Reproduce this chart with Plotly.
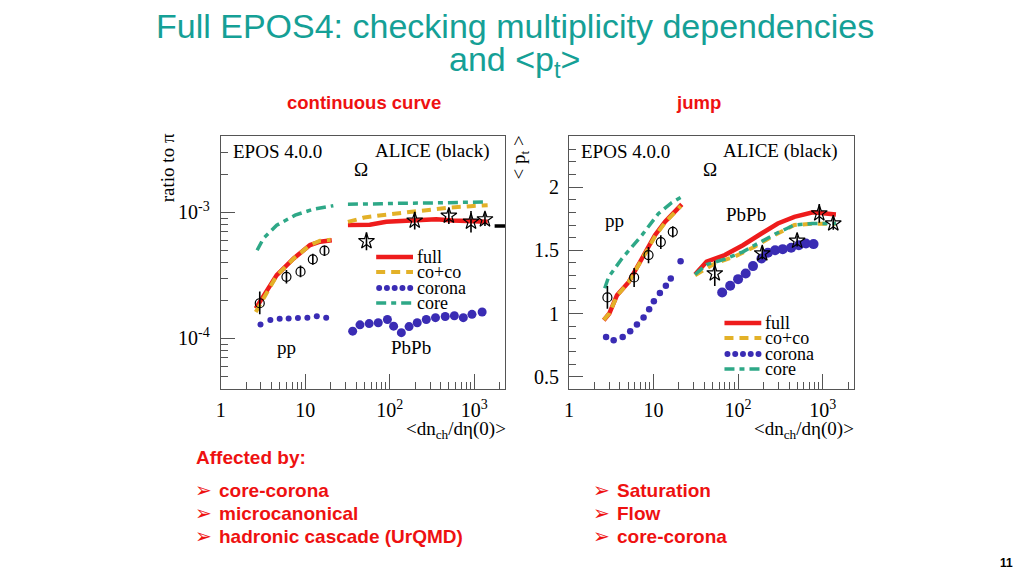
import plotly.graph_objects as go

# ================= DATA =================
# ---- left panel: Omega / pi ratio vs <dn_ch/deta(0)> ----
r_pp_full_x = [2.6, 3.2, 4.6, 7.3, 11.4, 15, 20.6]
r_pp_full_y = [1.73e-4, 2.14e-4, 3.18e-4, 4.31e-4, 5.5e-4, 5.85e-4, 6.0e-4]
r_pp_coco_x = [2.6, 3.2, 4.6, 7.3, 11.4, 15, 20.0]
r_pp_coco_y = [1.62e-4, 2.05e-4, 3.15e-4, 4.3e-4, 5.5e-4, 5.95e-4, 6.05e-4]
r_pp_core_x = [2.7, 3.2, 4.6, 7.6, 12.5, 21.5]
r_pp_core_y = [5.0e-4, 6.2e-4, 7.9e-4, 9.5e-4, 1.06e-3, 1.13e-3]
r_pp_corona_x = [2.96, 3.87, 4.99, 6.37, 8.2, 10.6, 13.7, 17.7]
r_pp_corona_y = [1.29e-4, 1.40e-4, 1.43e-4, 1.44e-4, 1.45e-4, 1.46e-4, 1.50e-4, 1.46e-4]
r_pp_data_x = [2.9, 6.0, 8.8, 12.3, 16.9]
r_pp_data_y = [1.9e-4, 3.08e-4, 3.38e-4, 4.24e-4, 4.96e-4]
r_pp_data_eup = [0.45e-4, 0.4e-4, 0.4e-4, 0.45e-4, 0.5e-4]
r_pp_data_edn = [0.35e-4, 0.35e-4, 0.33e-4, 0.4e-4, 0.45e-4]

r_pb_full_x = [32, 58, 91, 150, 226, 354, 556, 870, 1435]
r_pb_full_y = [7.94e-4, 7.97e-4, 8.43e-4, 8.55e-4, 8.69e-4, 8.8e-4, 8.6e-4, 8.6e-4, 8.43e-4]
r_pb_coco_x = [32, 50, 80, 150, 280, 500, 900, 1435]
r_pb_coco_y = [8.4e-4, 9.1e-4, 9.5e-4, 1.0e-3, 1.04e-3, 1.09e-3, 1.12e-3, 1.14e-3]
r_pb_core_x = [32, 45, 80, 130, 220, 400, 650, 1000, 1435]
r_pb_core_y = [1.16e-3, 1.17e-3, 1.17e-3, 1.18e-3, 1.18e-3, 1.19e-3, 1.2e-3, 1.21e-3, 1.21e-3]
r_pb_corona_x = [36.4, 44.4, 57, 73, 93.7, 111, 137, 169, 211, 270, 347, 452, 580, 740, 937, 1235]
r_pb_corona_y = [1.14e-4, 1.28e-4, 1.31e-4, 1.33e-4, 1.41e-4, 1.25e-4, 1.11e-4, 1.24e-4,
                 1.33e-4, 1.41e-4, 1.46e-4, 1.49e-4, 1.51e-4, 1.46e-4, 1.55e-4, 1.62e-4]
r_pb_data_x = [53, 197, 499, 912, 1334]
r_pb_data_y = [5.9e-4, 8.6e-4, 9.4e-4, 8.43e-4, 8.8e-4]
r_pb_data_eup = [1.06e-4, 1.5e-4, 1.5e-4, 1.8e-4, 1.1e-4]
r_pb_data_edn = [0.9e-4, 1.3e-4, 1.3e-4, 1.5e-4, 1.0e-4]
r_alice_hm_x = [2100]
r_alice_hm_y = [7.8e-4]

# ---- right panel: <p_t> vs <dn_ch/deta(0)> ----
p_pp_full_x = [2.58, 3.0, 3.7, 5.1, 7.3, 10.4, 13.7, 21.6]
p_pp_full_y = [0.947, 1.0, 1.145, 1.25, 1.435, 1.62, 1.726, 1.863]
p_pp_coco_x = [2.58, 3.0, 3.7, 5.1, 7.3, 10.4, 13.7, 21.0]
p_pp_coco_y = [0.95, 1.0, 1.14, 1.25, 1.43, 1.61, 1.72, 1.85]
p_pp_core_x = [2.65, 2.95, 4.24, 7.3, 11.4, 16.4, 21.6]
p_pp_core_y = [1.20, 1.29, 1.435, 1.62, 1.79, 1.876, 1.923]
p_pp_corona_x = [2.75, 3.38, 4.32, 5.3, 6.37, 7.63, 8.88, 10.1, 11.9, 14.0, 16.0, 20.9]
p_pp_corona_y = [0.815, 0.789, 0.815, 0.86, 0.913, 0.968, 1.034, 1.097, 1.163, 1.219, 1.277, 1.414]
p_pp_data_x = [2.85, 5.9, 8.73, 12.2, 16.9]
p_pp_data_y = [1.127, 1.285, 1.462, 1.565, 1.646]
p_pp_data_err = [0.09, 0.075, 0.065, 0.055, 0.045]

p_pb_full_x = [31, 42.4, 69.6, 114, 189, 295, 463, 765, 1435]
p_pb_full_y = [1.309, 1.41, 1.462, 1.54, 1.633, 1.712, 1.765, 1.80, 1.784]
p_pb_coco_x = [31, 53, 91, 157, 270, 463, 765, 1435]
p_pb_coco_y = [1.303, 1.396, 1.45, 1.528, 1.62, 1.70, 1.71, 1.71]
p_pb_core_x = [31, 42.4, 69.6, 114, 180, 282, 463, 765, 1435]
p_pb_core_y = [1.309, 1.388, 1.43, 1.488, 1.562, 1.633, 1.70, 1.712, 1.712]
p_pb_corona_x = [64.8, 80.6, 100, 123, 150, 189, 225, 274, 337, 424, 523, 634, 780]
p_pb_corona_y = [1.166, 1.219, 1.272, 1.317, 1.375, 1.435, 1.48, 1.50, 1.509, 1.52, 1.54, 1.554, 1.549]
p_pb_data_x = [53, 193, 499, 912, 1334]
p_pb_data_y = [1.317, 1.475, 1.575, 1.792, 1.712]
p_pb_data_err = [0.1, 0.045, 0.045, 0.075, 0.05]

# axis ticks
x_tickvals = [1, 10, 100, 1000]
x_ticktext = ["1", "10", "10<sup>2</sup>", "10<sup>3</sup>"]
x_minor = [2, 3, 4, 5, 6, 7, 8, 9, 20, 30, 40, 50, 60, 70, 80, 90,
           200, 300, 400, 500, 600, 700, 800, 900, 2000]
r_tickvals = [1e-4, 1e-3]
r_ticktext = ["10<sup>-4</sup>", "10<sup>-3</sup>"]
r_minor = [4e-5, 5e-5, 6e-5, 7e-5, 8e-5, 9e-5, 2e-4, 3e-4, 4e-4, 5e-4, 6e-4, 7e-4, 8e-4, 9e-4,
           2e-3, 3e-3, 4e-3]
p_tickvals = [0.5, 1.0, 1.5, 2.0]
p_ticktext = ["0.5", "1", "1.5", "2"]
p_minor = [0.6, 0.7, 0.8, 0.9, 1.1, 1.2, 1.3, 1.4, 1.6, 1.7, 1.8, 1.9, 2.1, 2.2, 2.3]

legend_labels = ["full", "co+co", "corona", "core"]

# ================= STYLE =================
W, H = 1024, 576
def px(x): return x / W
def py(y): return 1 - y / H

RED = "#ee1c1c"
GOLD = "#e3b128"
BLUE = "#3a2cb4"
TEAL = "#2ea887"
AX = "#555555"
SERIF = "Liberation Serif, Times New Roman, serif"
SANS = "Liberation Sans, Arial, sans-serif"
TITLE_C = "#15a096"
TXT_RED = "#ee1111"

FULL_STYLE = dict(color=RED, width=4.5)
COCO_STYLE = dict(color=GOLD, width=4, dash="9px,6px")
CORE_STYLE = dict(color=TEAL, width=3.5, dash="10px,5px,5px,5px")

fig = go.Figure()

def add_line(x, y, style, xa, ya):
    fig.add_trace(go.Scatter(x=x, y=y, mode="lines", line=style, xaxis=xa, yaxis=ya,
                             showlegend=False, hoverinfo="skip"))

def add_dots(x, y, size, xa, ya):
    fig.add_trace(go.Scatter(x=x, y=y, mode="markers",
                             marker=dict(color=BLUE, size=size, line=dict(width=0)),
                             xaxis=xa, yaxis=ya, showlegend=False, hoverinfo="skip"))

def add_data(x, y, eup, edn, symbol, size, xa, ya):
    fig.add_trace(go.Scatter(x=x, y=y, mode="markers",
                             marker=dict(symbol=symbol, size=size, color="black",
                                         line=dict(color="black", width=1.2)),
                             error_y=dict(type="data", symmetric=False, array=eup, arrayminus=edn,
                                          color="black", thickness=1.6, width=0),
                             xaxis=xa, yaxis=ya, showlegend=False, hoverinfo="skip"))

# left panel
add_line(r_pp_full_x, r_pp_full_y, FULL_STYLE, "x", "y")
add_line(r_pb_full_x, r_pb_full_y, FULL_STYLE, "x", "y")
add_line(r_pp_coco_x, r_pp_coco_y, COCO_STYLE, "x", "y")
add_line(r_pb_coco_x, r_pb_coco_y, COCO_STYLE, "x", "y")
add_line(r_pp_core_x, r_pp_core_y, CORE_STYLE, "x", "y")
add_line(r_pb_core_x, r_pb_core_y, CORE_STYLE, "x", "y")
add_dots(r_pp_corona_x, r_pp_corona_y, 6, "x", "y")
add_dots(r_pb_corona_x, r_pb_corona_y, 9, "x", "y")
add_data(r_pp_data_x, r_pp_data_y, r_pp_data_eup, r_pp_data_edn, "circle-open", 9, "x", "y")
add_data(r_pb_data_x, r_pb_data_y, r_pb_data_eup, r_pb_data_edn, "star-open", 12, "x", "y")
fig.add_trace(go.Scatter(x=r_alice_hm_x, y=r_alice_hm_y, mode="markers",
                         marker=dict(symbol="line-ew", size=10, line=dict(color="black", width=3.5)),
                         xaxis="x", yaxis="y", showlegend=False, hoverinfo="skip"))

# right panel
add_line(p_pp_full_x, p_pp_full_y, FULL_STYLE, "x2", "y2")
add_line(p_pb_full_x, p_pb_full_y, FULL_STYLE, "x2", "y2")
add_line(p_pp_coco_x, p_pp_coco_y, COCO_STYLE, "x2", "y2")
add_line(p_pb_coco_x, p_pb_coco_y, COCO_STYLE, "x2", "y2")
add_line(p_pp_core_x, p_pp_core_y, CORE_STYLE, "x2", "y2")
add_line(p_pb_core_x, p_pb_core_y, CORE_STYLE, "x2", "y2")
add_dots(p_pp_corona_x, p_pp_corona_y, 6.5, "x2", "y2")
add_dots(p_pb_corona_x, p_pb_corona_y, 10, "x2", "y2")
add_data(p_pp_data_x, p_pp_data_y, p_pp_data_err, p_pp_data_err, "circle-open", 9, "x2", "y2")
add_data(p_pb_data_x, p_pb_data_y, p_pb_data_err, p_pb_data_err, "star-open", 12, "x2", "y2")

# ================= AXES =================
TOP, BOT = 136, 389
def xaxis_cfg(left, right, anchor):
    return dict(domain=[px(left), px(right)], anchor=anchor, type="log", range=[0, 3.365],
                showline=True, mirror=True, linecolor=AX, linewidth=1,
                ticks="inside", ticklen=15, tickcolor=AX, tickwidth=1,
                tickmode="array", tickvals=x_tickvals, ticktext=x_ticktext,
                tickfont=dict(family=SERIF, size=20, color="black"), ticklabelstandoff=3,
                showgrid=False, zeroline=False,
                minor=dict(ticks="inside", ticklen=7, tickcolor=AX, tickvals=x_minor, showgrid=False))

fig.update_layout(
    xaxis=xaxis_cfg(216.7, 502.7, "y"),
    xaxis2=xaxis_cfg(566.7, 852.7, "y2"),
    yaxis=dict(domain=[py(BOT), py(TOP)], anchor="x", type="log", range=[-4.402, -2.394],
               showline=True, mirror=True, linecolor=AX, linewidth=1,
               ticks="inside", ticklen=14, tickcolor=AX,
               tickmode="array", tickvals=r_tickvals, ticktext=r_ticktext,
               tickfont=dict(family=SERIF, size=20, color="black"), ticklabelstandoff=6,
               showgrid=False, zeroline=False,
               minor=dict(ticks="inside", ticklen=7, tickcolor=AX, tickvals=r_minor, showgrid=False)),
    yaxis2=dict(domain=[py(BOT), py(TOP)], anchor="x2", range=[0.403, 2.404],
                showline=True, mirror=True, linecolor=AX, linewidth=1,
                ticks="inside", ticklen=14, tickcolor=AX,
                tickmode="array", tickvals=p_tickvals, ticktext=p_ticktext,
                tickfont=dict(family=SERIF, size=20, color="black"), ticklabelstandoff=5,
                showgrid=False, zeroline=False,
                minor=dict(ticks="inside", ticklen=7, tickcolor=AX, tickvals=p_minor, showgrid=False)),
    width=W, height=H, margin=dict(l=0, r=0, t=0, b=0),
    paper_bgcolor="white", plot_bgcolor="white", showlegend=False,
)

# ================= TEXT =================
ann = []
def text(x, y, s, size, color="black", family=SERIF, xanchor="center", yanchor="middle", angle=0):
    ann.append(dict(x=px(x), y=py(y), xref="paper", yref="paper", text=s, showarrow=False,
                    font=dict(family=family, size=size, color=color),
                    xanchor=xanchor, yanchor=yanchor, textangle=angle))

# slide title
text(512, 26, "Full EPOS4: checking multiplicity dependencies", 34, TITLE_C, SANS)
text(512, 61, "and &lt;p<sub>t</sub>&gt;", 34, TITLE_C, SANS)
text(361, 103, "<b>continuous curve</b>", 18.5, TXT_RED, SANS)
text(697, 103, "<b>jump</b>", 18.5, TXT_RED, SANS)

# panel texts
for dx, pp_pos, pb_pos in [(0, (283, 347), (408, 347)), (350, (612, 220), (745, 214))]:
    text(227 + dx, 151, "EPOS 4.0.0", 19, xanchor="left")
    text(488 + dx, 151, "ALICE (black)", 19, xanchor="right")
    text(358 + dx, 169, "Ω", 19)
    text(pp_pos[0], pp_pos[1], "pp", 19)
    text(pb_pos[0], pb_pos[1], "PbPb", 19)
    text(505 + dx, 430, "&lt;dn<sub>ch</sub>/dη(0)&gt;", 19, xanchor="right")

text(163, 168, "ratio to π", 19, angle=-90)
text(518, 157, "&lt; p<sub>t</sub> &gt;", 19, angle=-90)

# legends (key samples + labels)
shapes = []
styles = [FULL_STYLE, COCO_STYLE, None, CORE_STYLE]
for (lx, rows) in [(373, [257, 272, 288, 303]), (723, [323, 338, 354, 369])]:
    for lab, st, yy in zip(legend_labels, styles, rows):
        text(lx + 39, yy, lab, 18, xanchor="left")
        if st is None:
            for k in range(5):
                cx = lx + 3 + k * 7.8
                shapes.append(dict(type="circle", xref="paper", yref="paper",
                                   x0=px(cx - 3), x1=px(cx + 3), y0=py(yy + 3), y1=py(yy - 3),
                                   fillcolor=BLUE, line=dict(width=0)))
        else:
            ln = dict(color=st["color"], width=st["width"])
            if "dash" in st:
                ln["dash"] = st["dash"]
            shapes.append(dict(type="line", xref="paper", yref="paper",
                               x0=px(lx), x1=px(lx + 37), y0=py(yy), y1=py(yy), line=ln))

# bottom bullet texts
text(190, 457, "<b>Affected by:</b>", 19, TXT_RED, SANS, xanchor="left")
left_items = ["core-corona", "microcanonical", "hadronic cascade (UrQMD)"]
right_items = ["Saturation", "Flow", "core-corona"]
for i, yy in enumerate([490, 513, 536]):
    text(189, yy, "➢", 20, TXT_RED, "DejaVu Sans", xanchor="left")
    text(213, yy, "<b>%s</b>" % left_items[i], 19, TXT_RED, SANS, xanchor="left")
    text(589, yy, "➢", 20, TXT_RED, "DejaVu Sans", xanchor="left")
    text(613, yy, "<b>%s</b>" % right_items[i], 19, TXT_RED, SANS, xanchor="left")

text(1006, 563, "<b>11</b>", 12, "black", SANS)

fig.update_layout(annotations=ann, shapes=shapes)
fig.write_html("out.html", config={"displayModeBar": False},
               post_script="document.body.style.margin='0';document.body.style.overflow='hidden';")
